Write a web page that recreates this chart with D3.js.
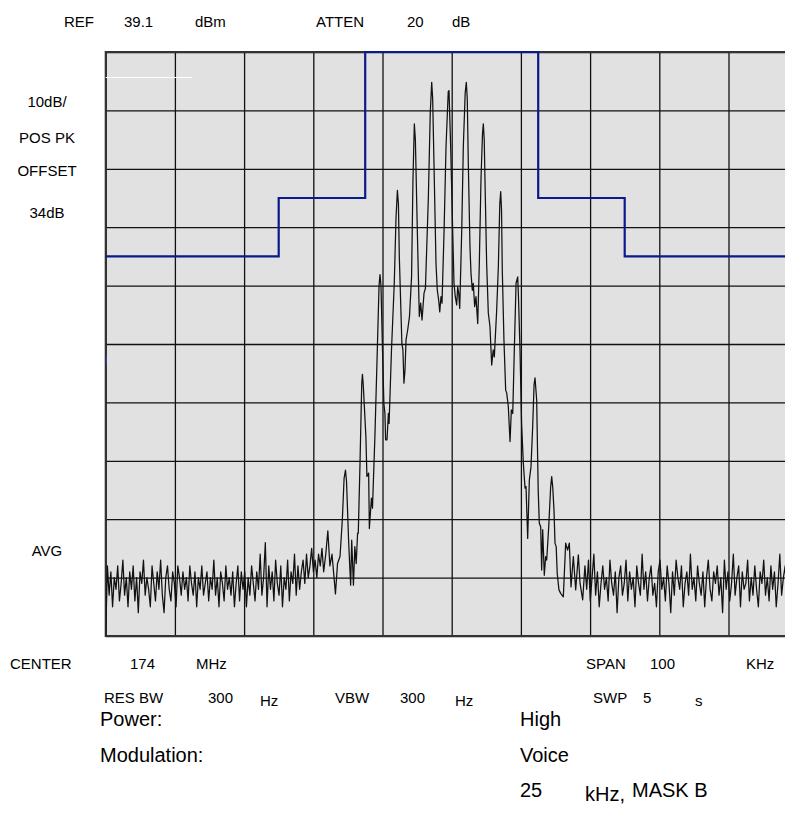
<!DOCTYPE html>
<html><head><meta charset="utf-8">
<script src="https://cdn.jsdelivr.net/npm/d3@7/dist/d3.min.js"></script>
<style>
body{margin:0;background:#fff}
text{font-family:"Liberation Sans",Arial,Helvetica,sans-serif;fill:#000}
</style>
</head><body>
<svg id="chart" width="785" height="828"></svg>
<script>
// ---------- data ----------
const freqGrid = [-50,-40,-30,-20,-10,0,10,20,30,40,50];          // kHz offset from 174 MHz
const levelGrid = [0,-10,-20,-30,-40,-50,-60,-70,-80,-90,-100];   // dB below REF
const maskEdges = [-50,-25,-12.5,12.5,25,50];                     // kHz
const maskLevels = [-35,-25,0,-25,-35];                           // dB
const noiseLeftRange = [-50,-18.5];
const noiseLeft = [-100,-88,-93,-89,-95,-90,-92,-88,-94,-91,
  -87,-93,-90,-95,-89,-92,-88,-94,-90,-96,
  -89,-91,-87,-93,-90,-92,-95,-88,-91,-94,
  -89,-92,-87,-93,-96,-90,-88,-92,-94,-89,
  -91,-95,-88,-90,-93,-89,-92,-90,-94,-88,
  -91,-93,-89,-95,-90,-92,-88,-93,-91,-89,
  -94,-90,-92,-87,-93,-90,-95,-89,-91,-94,
  -88,-92,-90,-93,-89,-95,-91,-88,-94,-89,
  -92,-89,-95,-90,-93,-88,-91,-94,-89,-92,
  -86,-93,-90,-84,-95,-88,-92,-89,-94,-87,
  -91,-93,-88,-95,-90,-92,-87,-94,-89,-91,
  -86,-93,-88,-92,-89,-87,-91,-86,-90,-88,
  -85,-89,-87,-90,-86,-88,-85,-89];
const signalFreq = [-18.2,-17.9,-17.6,-17.3,-17.0,-16.8,-16.5,-16.14,-15.8,-15.55,-15.35,-15.2,-14.9,-14.75,-14.6,-14.45,-14.2,-14.0,-13.8,-13.6,-13.5,-13.25,-13.0,-12.9,-12.78,-12.4,-12.25,-12.0,-11.9,-11.6,-11.45,-11.1,-10.75,-10.5,-10.36,-10.22,-10.0,-9.8,-9.65,-9.55,-9.35,-9.15,-9.05,-8.7,-8.3,-8.05,-7.85,-7.7,-7.57,-7.2,-7.05,-6.9,-6.75,-6.6,-6.36,-6.1,-5.8,-5.6,-5.4,-5.25,-4.97,-4.68,-4.48,-4.29,-4.0,-3.8,-3.37,-3.1,-2.89,-2.75,-2.56,-2.27,-2.08,-1.88,-1.73,-1.55,-1.4,-1.1,-0.82,-0.5,-0.39,-0.15,0.14,0.33,0.52,0.72,0.87,1.01,1.16,1.45,1.68,1.95,2.11,2.25,2.4,2.64,2.79,2.98,3.12,3.32,3.51,3.76,3.99,4.23,4.45,4.57,4.7,4.81,5.05,5.29,5.53,5.78,6.0,6.16,6.5,6.74,6.95,7.08,7.2,7.31,7.55,7.8,7.95,8.18,8.43,8.62,8.82,9.05,9.3,9.54,9.65,9.87,10.1,10.35,10.6,10.74,10.98,11.22,11.46,11.7,11.9,12.04,12.28,12.5,12.66,12.86,13.0,13.15,13.38,13.58,13.73,14.02,14.3,14.45,14.6,14.78,14.93,15.1,15.25,15.5,15.75,16.13,16.47,16.75,17.0,17.24,17.58,17.92,18.3,18.55,18.93];
const signalLevel = [-86,-82,-88,-86,-90,-92.8,-87.6,-86.4,-80,-73,-71.6,-73.5,-83.6,-87.6,-91.3,-83.6,-91.3,-84.7,-87.6,-82.4,-82.4,-70.4,-56.8,-55.2,-57,-65.9,-72.7,-72.1,-81.6,-76.4,-78.1,-65.9,-51,-40,-38.1,-40,-51,-60.2,-61.9,-66.4,-66.4,-61.9,-63.6,-51,-39.6,-28.5,-23.7,-26,-35,-49.9,-51,-56.7,-54.5,-49.3,-47.6,-45.3,-38.5,-22,-12.3,-15,-30.5,-45.3,-43,-45.9,-41.3,-40.5,-24.8,-10.5,-5.2,-8,-19.1,-36.2,-40.8,-42.5,-44.5,-41.9,-43,-30.5,-16.2,-6.8,-6.6,-16.2,-30.5,-39.6,-41.9,-43.3,-40.2,-41.3,-43.9,-30.5,-16.2,-7,-5.2,-8,-19.1,-33.3,-37.9,-40.8,-39.6,-43.6,-41.9,-46.5,-36.2,-21.9,-14,-12.3,-15,-21.9,-36.2,-44.7,-47,-53.6,-51,-52.2,-44.2,-36.8,-26,-23.9,-27,-37.3,-49.3,-57.9,-58.4,-60.7,-66.7,-61.3,-61.9,-51,-39.6,-38.5,-42,-51,-63.6,-70.4,-74.7,-74.4,-83.3,-73.3,-71,-64.2,-57,-55.8,-59.6,-75,-80.7,-81.3,-88.7,-81.8,-89.6,-86.4,-87,-81.3,-74.5,-72.7,-74.5,-78.4,-84.1,-84.7,-89.3,-92.1,-92.7,-93.3,-84.1,-85.3,-84.1,-91.6,-86.4,-92.1,-86.1,-91,-93.8];
const noiseRightRange = [19.25,50];
const noiseRight = [-88,-92,-87,-94,-90,-86,-93,-89,-95,-91,-88,-92,-90,-94,-87,-91,-93,-89,-96,-90,-88,-93,-91,-87,-94,-89,-92,-90,-95,-88,-91,-93,-86,-92,-89,-94,-90,-88,-93,-91,-95,-89,-87,-92,-90,-94,-88,-91,-96,-89,-93,-87,-90,-92,-88,-95,-91,-89,-93,-86,-92,-90,-94,-88,-91,-93,-89,-95,-90,-87,-92,-94,-89,-91,-88,-93,-90,-96,-87,-92,-89,-94,-91,-86,-93,-90,-88,-95,-89,-92,-91,-87,-94,-90,-93,-88,-92,-95,-89,-91,-87,-93,-90,-94,-88,-92,-89,-95,-91,-86,-93,-90,-88,-94,-89,-92,-90,-87,-93,-91];

// ---------- layout ----------
const svg = d3.select("#chart");
const L = 105.7, R = 797.7, T = 52, B = 636;
const x = d3.scaleLinear().domain([-50,50]).range([L,R]);
const y = d3.scaleLinear().domain([-100,0]).range([B,T]);

svg.append("rect").attr("x",L).attr("y",T).attr("width",R-L).attr("height",B-T).attr("fill","#e1e1e1");

// grid via axes
const gx = svg.append("g").attr("transform",`translate(0,${B})`)
  .call(d3.axisBottom(x).tickValues(freqGrid).tickSize(-(B-T)).tickFormat(""));
const gy = svg.append("g").attr("transform",`translate(${L},0)`)
  .call(d3.axisLeft(y).tickValues(levelGrid).tickSize(-(R-L)).tickFormat(""));
[gx,gy].forEach(g=>{
  g.select(".domain").remove();
  g.selectAll("line").attr("stroke","#111").attr("stroke-width",1.3);
});
// border
svg.append("rect").attr("x",L).attr("y",T).attr("width",R-L).attr("height",B-T)
  .attr("fill","none").attr("stroke","#333").attr("stroke-width",2);

// white marker line
svg.append("line").attr("x1",L).attr("x2",192).attr("y1",77.5).attr("y2",77.5)
  .attr("stroke","#fff").attr("stroke-width",1.2);
// small blue tick on left edge
svg.append("line").attr("x1",106.5).attr("x2",106.5).attr("y1",355).attr("y2",365)
  .attr("stroke","#2a3ea0").attr("stroke-width",1);

// trace
const step = (r,n)=> (r[1]-r[0])/(n-1);
const sL = step(noiseLeftRange, noiseLeft.length), sR = step(noiseRightRange, noiseRight.length);
const trace = [];
noiseLeft.forEach((v,i)=>trace.push([noiseLeftRange[0]+i*sL, v]));
signalFreq.forEach((f,i)=>trace.push([f, signalLevel[i]]));
noiseRight.forEach((v,i)=>trace.push([noiseRightRange[0]+i*sR, v]));

svg.append("clipPath").attr("id","pc").append("rect").attr("x",L).attr("y",T-2).attr("width",R-L).attr("height",B-T+2);
svg.append("path").datum(trace)
  .attr("clip-path","url(#pc)")
  .attr("d", d3.line().x(d=>x(d[0])).y(d=>y(d[1])))
  .attr("fill","none").attr("stroke","#111").attr("stroke-width",1.25).attr("stroke-linejoin","round");

// mask
const maskPts = maskLevels.map((v,i)=>[maskEdges[i],v]).concat([[maskEdges[maskEdges.length-1], maskLevels[maskLevels.length-1]]]);
svg.append("path").datum(maskPts)
  .attr("d", d3.line().curve(d3.curveStepAfter).x(d=>x(d[0])).y(d=>y(d[1])))
  .attr("fill","none").attr("stroke","#0a1a8c").attr("stroke-width",2.2);

// ---------- text ----------
function t(str, px, py, size, anchor){
  svg.append("text").attr("x",px).attr("y",py).attr("font-size",size)
    .attr("text-anchor",anchor||"start").text(str);
}
const S = 15;
t("REF",64,27,S); t("39.1",124,27,S); t("dBm",195,27,S);
t("ATTEN",316,27,S); t("20",407,27,S); t("dB",452,27,S);
t("10dB/",47,107,S,"middle"); t("POS PK",47,143,S,"middle");
t("OFFSET",47,176,S,"middle"); t("34dB",47,218,S,"middle");
t("AVG",47,556,S,"middle");
t("CENTER",10,669,S); t("174",130,669,S); t("MHz",196,669,S);
t("SPAN",586,669,S); t("100",650,669,S); t("KHz",746,669,S);
t("RES BW",104,703,S); t("300",208,703,S); t("Hz",260,706,S);
t("VBW",335,703,S); t("300",400,703,S); t("Hz",455,706,S);
t("SWP",593,703,S); t("5",643,703,S); t("s",695,706,S);
const S2 = 20;
t("Power:",100,726,S2); t("High",520,726,S2);
t("Modulation:",100,762,S2); t("Voice",520,762,S2);
t("25",520,797,S2); t("kHz,",585,801,S2); t("MASK B",632,797,S2);
</script>
</body></html>
